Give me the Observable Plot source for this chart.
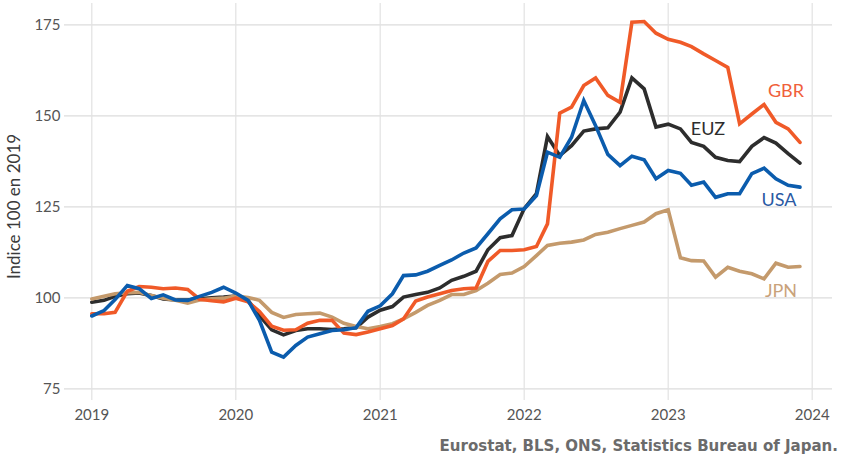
<!DOCTYPE html>
<html>
<head>
<meta charset="utf-8">
<script src="https://cdn.jsdelivr.net/npm/d3@7"></script>
<script src="https://cdn.jsdelivr.net/npm/@observablehq/plot@0.6"></script>
<style>
  body { margin: 0; background: #fff; }
  #chart { width: 843px; }
  #caption {
    width: 843px; box-sizing: border-box; text-align: right; padding-right: 5px;
    font-family: "Liberation Sans Narrow", "DejaVu Sans", sans-serif; font-stretch: condensed;
    font-weight: bold; font-size: 16.7px; color: #6b6b6b; margin-top: 5px;
  }
</style>
</head>
<body>
<div id="chart"></div>
<div id="caption">Eurostat, BLS, ONS, Statistics Bureau of Japan.</div>
<script>
const countries = ["EUZ", "JPN", "GBR", "USA"];
const colors = ["#2d2d2d", "#c49a6c", "#f05a28", "#0b5cad"];
const labelColors = ["#2d2d2d", "#c9a27a", "#f0603a", "#2a59a3"];
const yTicks = [75, 100, 125, 150, 175];
const yearTicks = ["2019", "2020", "2021", "2022", "2023", "2024"];
const yLabel = "Indice 100 en 2019";

// monthly values, Jan 2019 .. Dec 2023
const usa = [
  95.0, 96.5, 99.5, 103.4, 102.5, 99.8, 100.8, 99.4, 99.3, 100.4, 101.5, 102.9,
  101.3, 99.3, 93.8, 85.1, 83.7, 86.9, 89.2, 90.1, 91.0, 91.2, 91.8, 96.3,
  97.8, 101.1, 106.1, 106.3, 107.3, 108.9, 110.4, 112.3, 113.7, 117.6, 121.7, 124.2,
  124.4, 128.1, 140.0, 138.6, 144.1, 154.2, 147.3, 139.4, 136.3, 138.9, 137.9, 132.7,
  135.0, 134.2, 130.9, 131.8, 127.6, 128.6, 128.6, 134.1, 135.6, 132.7, 130.9, 130.4
];
const gbr = [
  95.6, 95.6, 96.0, 101.8, 103.1, 102.9, 102.5, 102.7, 102.3, 99.6, 99.2, 98.9,
  99.9, 98.9, 96.2, 92.2, 91.1, 91.2, 93.0, 93.8, 93.8, 90.3, 89.9, 90.6,
  91.5, 92.4, 94.2, 99.1, 100.2, 101.1, 102.0, 102.5, 102.7, 110.0, 113.0, 113.0,
  113.2, 114.1, 120.3, 150.7, 152.4, 158.3, 160.4, 155.6, 153.7, 175.7, 175.9, 172.7,
  171.0, 170.2, 169.0, 167.0, 165.2, 163.3, 147.8, 150.5, 153.1, 148.2, 146.4, 142.7
];
const euz = [
  98.8, 99.3, 100.4, 101.1, 101.3, 100.6, 99.7, 99.4, 99.4, 99.7, 100.0, 100.2,
  100.5, 99.3, 95.1, 91.2, 89.8, 91.0, 91.5, 91.5, 91.3, 91.5, 91.8, 94.7,
  96.6, 97.6, 100.2, 100.9, 101.5, 102.7, 104.8, 105.9, 107.3, 113.2, 116.5, 117.1,
  124.5, 128.6, 144.3, 139.1, 141.8, 145.8, 146.4, 146.7, 151.0, 160.4, 157.4, 146.9,
  147.7, 146.4, 142.7, 141.6, 138.6, 137.7, 137.4, 141.6, 144.0, 142.5, 139.6, 137.0
];
const jpn = [
  99.7, 100.4, 101.1, 101.4, 101.5, 100.6, 99.9, 99.3, 98.5, 99.4, 99.7, 99.9,
  100.5, 100.1, 99.3, 96.0, 94.6, 95.4, 95.6, 95.8, 94.7, 93.0, 92.1, 91.5,
  92.1, 92.9, 94.2, 96.0, 97.9, 99.3, 100.9, 100.9, 102.0, 104.0, 106.4, 106.8,
  108.6, 111.6, 114.4, 115.0, 115.3, 115.9, 117.4, 118.0, 119.0, 119.9, 120.8, 123.1,
  124.2, 111.0, 110.2, 110.1, 105.7, 108.4, 107.3, 106.6, 105.2, 109.5, 108.4, 108.6
];
const seriesValues = {EUZ: euz, JPN: jpn, GBR: gbr, USA: usa};

const months = d3.utcMonth.range(new Date(Date.UTC(2019, 0, 1)), new Date(Date.UTC(2024, 0, 1)));
const rows = countries.flatMap(c => seriesValues[c].map((v, i) => ({country: c, date: months[i], value: v})));
const lastRows = countries.map(c => rows.filter(r => r.country === c).at(-1));
const labelOffsets = {GBR: [-14, -51], EUZ: [-92, -34], USA: [-21, 13], JPN: [-19, 25]};
const yearDates = yearTicks.map(y => new Date(Date.UTC(+y, 0, 1)));

const plot = Plot.plot({
  width: 843,
  height: 430,
  marginLeft: 64,
  marginRight: 11,
  marginTop: 3,
  marginBottom: 30,
  insetLeft: 27.3,
  insetRight: 20.3,
  insetTop: 21.3,
  insetBottom: 11.7,
  style: {fontFamily: "Lato, sans-serif", fontSize: "15px", color: "#555", background: "#fff"},
  x: {type: "utc", domain: [yearDates[0], yearDates[yearDates.length - 1]]},
  y: {domain: [75, 175]},
  color: {domain: countries, range: colors},
  marks: [
    Plot.gridY(yTicks, {stroke: "#dcdcdc", strokeOpacity: 1, strokeWidth: 1.2}),
    Plot.gridX(yearDates, {stroke: "#e2e2e2", strokeOpacity: 1, strokeWidth: 1.2}),
    Plot.axisY(yTicks, {tickSize: 0, tickPadding: 4, label: null}),
    Plot.axisX(yearDates, {tickSize: 0, tickPadding: 9, tickFormat: d3.utcFormat("%Y"), label: null}),
    Plot.text([yLabel], {frameAnchor: "left", text: d => d, rotate: -90, dx: -50, dy: 4.5,
      fontSize: 17, fill: "#3a3a3a", textAnchor: "middle", lineAnchor: "middle"}),
    Plot.line(rows, {x: "date", y: "value", z: "country", stroke: "country", strokeWidth: 3.6, strokeLinejoin: "miter", strokeMiterlimit: 3}),
    ...countries.map((c, i) => Plot.text([lastRows[i]], {
      x: "date", y: "value", text: () => c,
      dx: labelOffsets[c][0], dy: labelOffsets[c][1],
      fill: labelColors[i], fontSize: 18, textAnchor: "middle"
    }))
  ]
});
document.getElementById("chart").appendChild(plot);
</script>
</body>
</html>
